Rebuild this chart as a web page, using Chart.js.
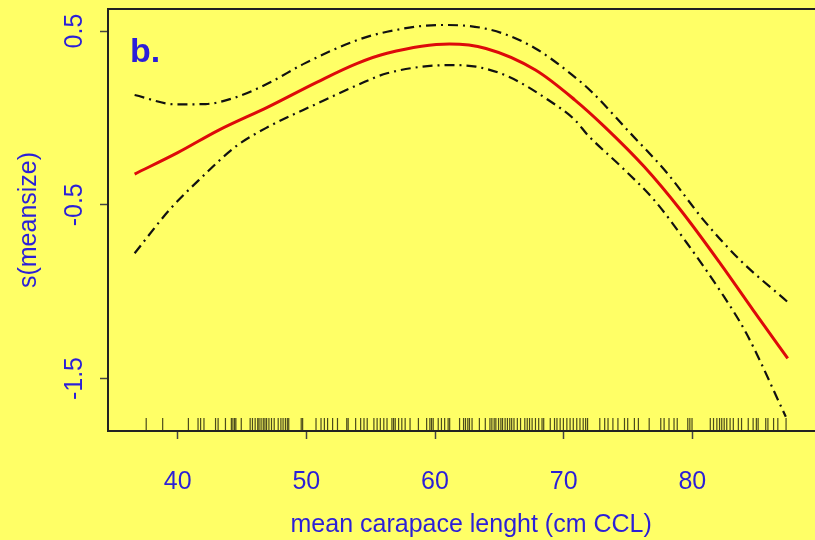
<!DOCTYPE html>
<html>
<head>
<meta charset="utf-8">
<script src="https://cdn.jsdelivr.net/npm/chart.js@4"></script>
<style>
  html, body { margin: 0; padding: 0; background: #ffff66; overflow: hidden; }
  #wrap { width: 842px; height: 540px; }
</style>
</head>
<body>
<div id="wrap"><canvas id="gamChart" width="842" height="540"></canvas></div>
<script>
// smooth term s(meansize) and its confidence band
const fitX = [36.65, 40.0, 43.19, 47.04, 50.88, 53.96, 56.27, 61.12, 63.96, 67.81, 70.88, 73.19, 76.27, 79.09, 82.17, 84.73, 87.42];
const fitY = [-0.323, -0.2, -0.070, 0.064, 0.208, 0.314, 0.372, 0.425, 0.400, 0.276, 0.103, -0.051, -0.281, -0.530, -0.837, -1.106, -1.384];

const upperX = [36.65, 39.86, 42.17, 44.48, 47.04, 49.87, 53.96, 56.27, 60.35, 62.65, 65.25, 67.81, 70.35, 72.17, 74.96, 78.04, 80.88, 83.71, 87.42];
const upperY = [0.132, 0.078, 0.080, 0.118, 0.199, 0.314, 0.448, 0.496, 0.535, 0.529, 0.487, 0.400, 0.266, 0.151, -0.070, -0.317, -0.588, -0.818, -1.060];

const lowerX = [36.65, 39.35, 41.91, 44.48, 47.04, 50.88, 53.96, 56.27, 61.12, 63.19, 65.73, 68.81, 70.88, 71.88, 74.48, 77.04, 79.58, 82.21, 84.19, 87.27];
const lowerY = [-0.779, -0.530, -0.339, -0.166, -0.051, 0.084, 0.189, 0.257, 0.304, 0.295, 0.237, 0.103, -0.012, -0.099, -0.281, -0.473, -0.720, -1.0, -1.238, -1.720];

// rug of observed mean sizes
const rugX = [37.55, 38.83, 40.83, 41.58, 41.78, 42.04, 42.94, 43.14, 43.71, 44.17, 44.29, 44.42, 44.52, 44.94,
  45.63, 45.81, 46.02, 46.22, 46.32, 46.48, 46.65, 46.78, 46.91, 47.09, 47.29, 47.5, 47.81, 48.02, 48.19, 48.37,
  48.52, 48.63, 49.6, 49.71, 50.75, 51.14, 51.4, 51.65, 52.04, 52.42, 53.14, 53.25, 53.83, 54.22, 54.48, 54.73,
  55.25, 55.5, 55.75, 56.02, 56.27, 56.65, 56.78, 56.91, 57.17, 57.42, 57.68, 58.06, 58.71, 59.35, 59.6, 59.73,
  59.86, 60.25, 60.5, 60.75, 61.02, 61.14, 61.91, 62.22, 62.37, 62.55, 62.68, 62.88, 63.45, 63.91, 64.27, 64.42,
  64.6, 64.73, 64.94, 65.12, 65.25, 65.45, 65.63, 65.81, 65.96, 66.14, 66.4, 66.65, 66.98, 67.17, 67.35, 67.55,
  67.81, 68.06, 68.32, 68.45, 68.96, 69.29, 69.48, 69.73, 69.98, 70.25, 70.5, 70.75, 71.02, 71.27, 71.52, 71.71,
  71.86, 72.81, 73.19, 73.45, 73.83, 74.22, 74.73, 74.98, 75.5, 75.81, 76.65, 77.55, 77.81, 78.19, 78.58, 78.83,
  79.65, 79.81, 79.98, 81.4, 81.65, 81.91, 82.12, 82.29, 82.48, 82.68, 82.94, 83.19, 83.58, 83.83, 84.35, 84.73,
  84.98, 85.12, 85.71, 85.88, 86.32, 86.65, 87.29];
const rugLevel = -1.765;

const xTicks = [40, 50, 60, 70, 80];
const yTicks = [-1.5, -0.5, 0.5];

const BLUE = '#2b1fd8';
const FONT = 'Liberation Sans, Arial, sans-serif';

const pts = (xs, ys) => xs.map((x, i) => ({ x: x, y: ys[i] }));

// frame around the plot + the panel letter
const framePlugin = {
  id: 'frame',
  beforeDraw(chart) {
    const c = chart.ctx;
    c.save();
    c.fillStyle = '#ffff66';
    c.fillRect(0, 0, chart.width, chart.height);
    c.restore();
  },
  afterDraw(chart) {
    const a = chart.chartArea;
    const c = chart.ctx;
    c.save();
    c.strokeStyle = '#222';
    c.lineWidth = 2;
    c.strokeRect(a.left, a.top, a.right - a.left, a.bottom - a.top);
    c.fillStyle = BLUE;
    c.font = 'bold 34px ' + FONT;
    c.textBaseline = 'alphabetic';
    c.fillText('b.', a.left + 22, a.top + 53);
    c.restore();
  }
};

new Chart(document.getElementById('gamChart'), {
  type: 'line',
  data: {
    datasets: [
      {
        label: 'upper',
        data: pts(upperX, upperY),
        borderColor: '#111',
        borderWidth: 2.2,
        borderDash: [10, 5, 2, 5],
        pointRadius: 0,
        cubicInterpolationMode: 'monotone'
      },
      {
        label: 'lower',
        data: pts(lowerX, lowerY),
        borderColor: '#111',
        borderWidth: 2.2,
        borderDash: [10, 5, 2, 5],
        pointRadius: 0,
        cubicInterpolationMode: 'monotone'
      },
      {
        label: 's(meansize)',
        data: pts(fitX, fitY),
        borderColor: '#dd0a0a',
        borderWidth: 3,
        pointRadius: 0,
        cubicInterpolationMode: 'monotone'
      },
      {
        label: 'rug',
        type: 'scatter',
        data: rugX.map(x => ({ x: x, y: rugLevel })),
        pointStyle: 'line',
        rotation: 90,
        pointRadius: 6.5,
        borderWidth: 1.2,
        borderColor: 'rgba(30,30,10,0.8)',
        backgroundColor: 'rgba(30,30,10,0.8)'
      }
    ]
  },
  options: {
    responsive: false,
    animation: false,
    layout: { padding: { top: 9, right: 0, left: 0, bottom: 0 } },
    plugins: {
      legend: { display: false },
      tooltip: { enabled: false }
    },
    scales: {
      x: {
        type: 'linear',
        min: 34.58,
        max: 91.04,
        afterFit: s => { s.height = 109; s.paddingLeft = 0; s.paddingRight = 0; },
        afterBuildTicks: s => { s.ticks = xTicks.map(v => ({ value: v })); },
        grid: { drawOnChartArea: false, tickLength: 8, tickColor: '#444', tickWidth: 1.5 },
        border: { display: false },
        ticks: {
          color: BLUE,
          font: { family: FONT, size: 25 },
          padding: 28,
          maxRotation: 0,
          autoSkip: false
        },
        title: {
          display: true,
          text: 'mean carapace lenght (cm CCL)',
          color: BLUE,
          font: { family: FONT, size: 25 },
          padding: 0
        }
      },
      y: {
        type: 'linear',
        min: -1.802,
        max: 0.627,
        afterFit: s => { s.width = 108; s.paddingTop = 0; s.paddingBottom = 0; },
        afterBuildTicks: s => { s.ticks = yTicks.map(v => ({ value: v })); },
        grid: { drawOnChartArea: false, tickLength: 8, tickColor: '#444', tickWidth: 1.5 },
        border: { display: false },
        ticks: {
          color: BLUE,
          font: { family: FONT, size: 25 },
          padding: 3,
          minRotation: 90,
          maxRotation: 90,
          crossAlign: 'center',
          autoSkip: false
        },
        title: {
          display: true,
          text: 's(meansize)',
          color: BLUE,
          font: { family: FONT, size: 25 },
          padding: 14
        }
      }
    }
  },
  plugins: [framePlugin]
});
</script>
</body>
</html>
